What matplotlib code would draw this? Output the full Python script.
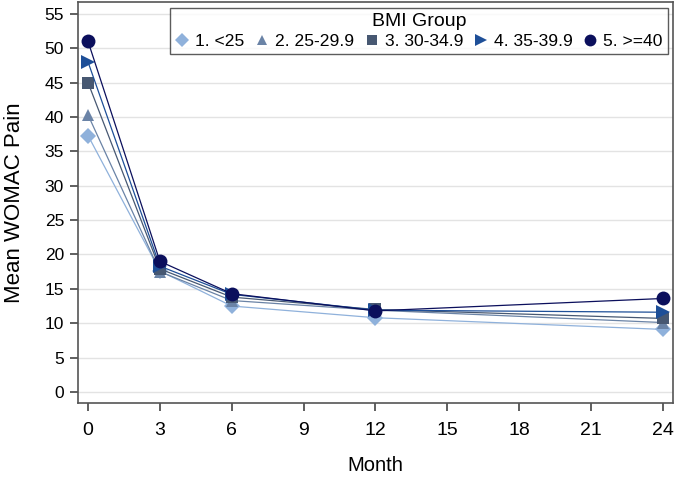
import numpy as np
import matplotlib
matplotlib.use('Agg')
import matplotlib.pyplot as plt
from matplotlib.lines import Line2D

plt.rcParams['font.family'] = ['Liberation Sans', 'DejaVu Sans']

# data
months = [0, 3, 6, 12, 24]
groups = ['1. <25', '2. 25-29.9', '3. 30-34.9', '4. 35-39.9', '5. >=40']
pain = [
    [37.3, 17.6, 12.5, 10.8, 9.1],
    [40.3, 17.5, 13.3, 11.9, 10.1],
    [45.0, 17.9, 13.8, 12.0, 10.7],
    [48.0, 18.3, 14.2, 11.9, 11.6],
    [51.0, 19.0, 14.3, 11.8, 13.6],
]
colors = ['#8fb1db', '#6a83a6', '#475872', '#1e4f98', '#0b0f5c']
markers = ['D', '^', 's', '>', 'o']
msizes = [8, 9, 9, 10, 10]

xticks = [0, 3, 6, 9, 12, 15, 18, 21, 24]
yticks = np.arange(0, 56, 5)

fig = plt.figure(figsize=(6.77, 4.78), dpi=100)
ax = fig.add_axes([0.1152, 0.157, 0.8788, 0.839])

for vals, c, m, ms in zip(pain, colors, markers, msizes):
    ax.plot(months, vals, color=c, lw=0.9, marker=m, ms=ms,
            markeredgewidth=0, zorder=3)

ax.set_xlim(-0.42, 24.42)
ax.set_ylim(-1.6, 56.75)
ax.set_xticks(xticks)
ax.set_yticks(yticks)
ax.tick_params(axis='x', labelsize=14, length=6, width=1.2, color='#444444', pad=8)
ax.tick_params(axis='y', labelsize=12.5, length=6, width=1.2, color='#444444', pad=4)
ax.yaxis.grid(True, color='#e3e3e3', lw=1)
ax.set_axisbelow(True)
for s in ax.spines.values():
    s.set_color('#555555')
    s.set_linewidth(1.2)

ax.set_xlabel('Month', fontsize=14.5, labelpad=12)
ax.set_ylabel('Mean WOMAC Pain', fontsize=16, labelpad=14)

handles = [Line2D([], [], ls='none', marker=m, color=c, ms=ms * 0.85, markeredgewidth=0)
           for c, m, ms in zip(colors, markers, msizes)]
leg = ax.legend(handles, groups, title='BMI Group', ncol=5, loc='upper right',
                bbox_to_anchor=(0.9915, 0.985), fontsize=12.6, title_fontsize=14,
                frameon=True, fancybox=False, edgecolor='#333333',
                handlelength=0.8, handletextpad=0.35, columnspacing=0.6,
                borderpad=0.3, labelspacing=0.2, borderaxespad=0)
leg.get_frame().set_linewidth(1.0)

fig.savefig('out.png', dpi=100)
